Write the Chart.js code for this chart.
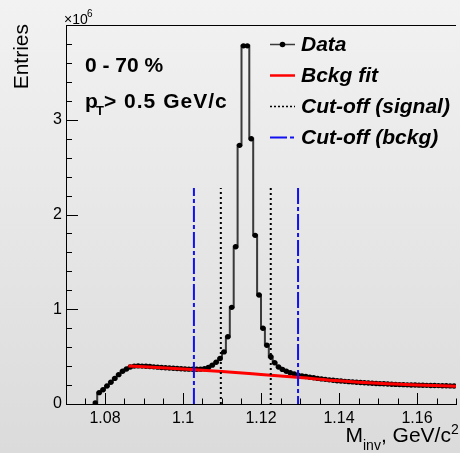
<!DOCTYPE html>
<html><head><meta charset="utf-8">
<script src="https://cdn.jsdelivr.net/npm/chart.js@4.4.1/dist/chart.umd.min.js"></script>
<style>html,body{margin:0;padding:0;background:#e6e6e6;overflow:hidden}</style>
</head><body>
<canvas id="c" width="460" height="453"></canvas>
<script>
// Bin centres (GeV/c^2)
const binCenters = [
 1.0775,1.0785,1.0795,1.0805,1.0815,1.0825,1.0835,1.0845,1.0855,1.0865,
 1.0875,1.0885,1.0895,1.0905,1.0915,1.0925,1.0935,1.0945,1.0955,1.0965,
 1.0975,1.0985,1.0995,1.1005,1.1015,1.1025,1.1035,1.1045,1.1055,1.1065,
 1.1075,1.1085,1.1095,1.1105,1.1115,1.1125,1.1135,1.1145,1.1155,1.1165,
 1.1175,1.1185,1.1195,1.1205,1.1215,1.1225,1.1235,1.1245,1.1255,1.1265,
 1.1275,1.1285,1.1295,1.1305,1.1315,1.1325,1.1335,1.1345,1.1355,1.1365,
 1.1375,1.1385,1.1395,1.1405,1.1415,1.1425,1.1435,1.1445,1.1455,1.1465,
 1.1475,1.1485,1.1495,1.1505,1.1515,1.1525,1.1535,1.1545,1.1555,1.1565,
 1.1575,1.1585,1.1595,1.1605,1.1615,1.1625,1.1635,1.1645,1.1655,1.1665,
 1.1675,1.1685,1.1695];
// Entries (x10^6)
const entries = [
 0.01,0.12,0.15,0.19,0.23,0.27,0.31,0.345,0.37,0.39,
 0.40,0.402,0.400,0.398,0.395,0.392,0.389,0.386,0.383,0.380,
 0.377,0.374,0.372,0.370,0.368,0.367,0.367,0.368,0.372,0.385,
 0.41,0.44,0.48,0.55,0.71,1.02,1.66,2.73,3.78,3.78,
 2.80,1.78,1.15,0.80,0.62,0.50,0.435,0.39,0.365,0.345,
 0.33,0.318,0.305,0.297,0.29,0.283,0.277,0.27,0.265,0.26,
 0.255,0.25,0.246,0.242,0.239,0.236,0.233,0.230,0.227,0.224,
 0.222,0.219,0.217,0.215,0.213,0.211,0.209,0.207,0.205,0.204,
 0.202,0.201,0.200,0.199,0.198,0.197,0.196,0.195,0.194,0.193,
 0.192,0.191,0.190];
// Background fit
const fitX = [1.086,1.09,1.10,1.11,1.12,1.13,1.14,1.15,1.16,1.17];
const fitY = [0.400,0.392,0.370,0.343,0.312,0.280,0.245,0.218,0.200,0.188];
// Cut-off lines
const cutSignal = [1.1097, 1.1225];
const cutBckg = [1.1028, 1.1295];
const cutTop = 2.28;
// Axes
const xTicks = [1.08,1.10,1.12,1.14,1.16];
const xTickLabels = ['1.08','1.1','1.12','1.14','1.16'];
const yTicks = [0,1,2,3];
const yTickLabels = ['0','1','2','3'];
const xRange = [1.07, 1.17];
const yRange = [0, 4.0];

const FONT = '"Liberation Sans", Arial, Helvetica, sans-serif';

function vlines(xs){
  return [{x:xs[0],y:0},{x:xs[0],y:cutTop},{x:xs[0],y:null},{x:xs[1],y:cutTop},{x:xs[1],y:0}];
}

const bgPlugin = {
  id:'bg',
  beforeDraw(chart){
    const ctx = chart.ctx;
    const g = ctx.createLinearGradient(0,0,0,chart.height);
    g.addColorStop(0,'#f2f2f2');
    g.addColorStop(1,'#dbdbdb');
    ctx.save(); ctx.fillStyle = g; ctx.fillRect(0,0,chart.width,chart.height); ctx.restore();
  }
};

const decoPlugin = {
  id:'deco',
  afterDraw(chart){
    const ctx = chart.ctx, a = chart.chartArea;
    const xs = chart.scales.x, ys = chart.scales.y;
    ctx.save();
    ctx.strokeStyle = '#000'; ctx.lineWidth = 1;
    // top frame
    ctx.beginPath(); ctx.moveTo(a.left, Math.round(a.top)+0.5); ctx.lineTo(a.right, Math.round(a.top)+0.5); ctx.stroke();
    // x ticks (inside)
    ctx.beginPath();
    for(let k=0;k<=20;k++){
      const v = xRange[0] + k*0.005;
      const major = xTicks.some(t=>Math.abs(t-v)<1e-6);
      const px = Math.round(xs.getPixelForValue(v))+0.5;
      const len = major?11:5.5;
      ctx.moveTo(px, a.bottom); ctx.lineTo(px, a.bottom-len);
    }
    // y ticks (inside)
    for(let k=0;k<=20;k++){
      const v = k*0.2;
      const major = yTicks.some(t=>Math.abs(t-v)<1e-6);
      const py = Math.round(ys.getPixelForValue(v))+0.5;
      const len = major?12:6;
      ctx.moveTo(a.left, py); ctx.lineTo(a.left+len, py);
    }
    ctx.stroke();

    ctx.fillStyle = '#000';
    ctx.textBaseline = 'alphabetic';
    // x10^6
    ctx.textAlign = 'left';
    ctx.font = '14px '+FONT;
    ctx.fillText('\u00d710', 64, 24);
    ctx.font = '10px '+FONT;
    ctx.fillText('6', 87, 17);
    // Entries
    ctx.save();
    ctx.translate(28, 24); ctx.rotate(-Math.PI/2);
    ctx.textAlign = 'right';
    ctx.font = '21px '+FONT;
    ctx.fillText('Entries', 0, 0);
    ctx.restore();
    // labels in plot
    ctx.font = 'bold 21px '+FONT;
    ctx.fillText('0 - 70 %', 85, 72);
    ctx.fillText('p', 85, 108);
    ctx.font = 'bold 13px '+FONT;
    ctx.fillText('T', 96, 115);
    ctx.save();
    ctx.font = 'bold 21px '+FONT;
    ctx.letterSpacing = '1px';
    ctx.fillText('> 0.5 GeV/c', 104, 108);
    ctx.restore();
    // x axis title
    let x = 345.5;
    ctx.font = '21px '+FONT;
    ctx.fillText('M', x, 442); x += ctx.measureText('M').width;
    ctx.font = '14px '+FONT;
    ctx.fillText('inv', x, 450); x += ctx.measureText('inv').width;
    ctx.font = '21px '+FONT;
    ctx.fillText(', GeV/c', x, 442); x += ctx.measureText(', GeV/c').width;
    ctx.font = '14px '+FONT;
    ctx.fillText('2', x, 434);

    // legend
    const rows = [44, 75, 106, 137];
    const dsets = chart.data.datasets;
    ctx.font = 'italic bold 21px '+FONT;
    dsets.forEach((d,i)=>{
      const y = rows[i];
      ctx.save();
      ctx.strokeStyle = d.borderColor;
      ctx.lineWidth = d.legendWidth || d.borderWidth;
      ctx.setLineDash(d.legendDash || []);
      ctx.beginPath(); ctx.moveTo(270, y+0.5); ctx.lineTo(295, y+0.5); ctx.stroke();
      ctx.restore();
      if(d.pointRadius>0){
        ctx.beginPath(); ctx.arc(282.5, y+0.5, 2.8, 0, Math.PI*2); ctx.fillStyle='#000'; ctx.fill();
      }
      ctx.fillStyle = '#000';
      ctx.fillText(d.label, 301, y+7);
    });
    ctx.restore();
  }
};

new Chart(document.getElementById('c'), {
  type:'line',
  data:{datasets:[
    {label:'Data', data: binCenters.map((x,i)=>({x:x, y:entries[i]})), stepped:'middle',
     borderColor:'#3a3a3a', borderWidth:2, pointRadius:2.7, pointBackgroundColor:'#000', pointBorderWidth:0,
     legendWidth:1.5, order:3},
    {label:'Bckg fit', data: fitX.map((x,i)=>({x:x, y:fitY[i]})), borderColor:'#ff0000', borderWidth:3,
     pointRadius:0, cubicInterpolationMode:'monotone', legendWidth:2.5, order:2},
    {label:'Cut-off (signal)', data: vlines(cutSignal), borderColor:'#000', borderWidth:2, borderDash:[2,3],
     legendDash:[2,2], legendWidth:1.5, pointRadius:0, spanGaps:false, order:1},
    {label:'Cut-off (bckg)', data: vlines(cutBckg), borderColor:'#1010f0', borderWidth:2, borderDash:[16,3,4,3],
     legendDash:[17,3,4,3], pointRadius:0, spanGaps:false, order:0}
  ]},
  options:{
    responsive:false, animation:false, events:[],
    layout:{padding:{top:25,right:0,left:0,bottom:0}},
    plugins:{legend:{display:false}, tooltip:{enabled:false}},
    scales:{
      x:{type:'linear', min:xRange[0], max:xRange[1],
         grid:{display:false, drawTicks:false},
         border:{display:true, color:'#000', width:1},
         ticks:{padding:5, color:'#000', maxRotation:0, autoSkip:false, font:{family:FONT, size:16},
                callback:(v)=>{const i=xTicks.findIndex(t=>Math.abs(t-v)<1e-6); return i>=0?xTickLabels[i]:'';}},
         afterBuildTicks:(s)=>{s.ticks = xTicks.map(v=>({value:v}));},
         afterFit:(s)=>{s.height = 49;}
      },
      y:{type:'linear', min:yRange[0], max:yRange[1],
         grid:{display:false, drawTicks:false},
         border:{display:true, color:'#000', width:1},
         ticks:{padding:4, color:'#000', font:{family:FONT, size:16},
                callback:(v)=>{const i=yTicks.findIndex(t=>Math.abs(t-v)<1e-6); return i>=0?yTickLabels[i]:'';}},
         afterBuildTicks:(s)=>{s.ticks = yTicks.map(v=>({value:v}));},
         afterFit:(s)=>{s.width = 66;}
      }
    }
  },
  plugins:[bgPlugin, decoPlugin]
});
</script>
</body></html>
